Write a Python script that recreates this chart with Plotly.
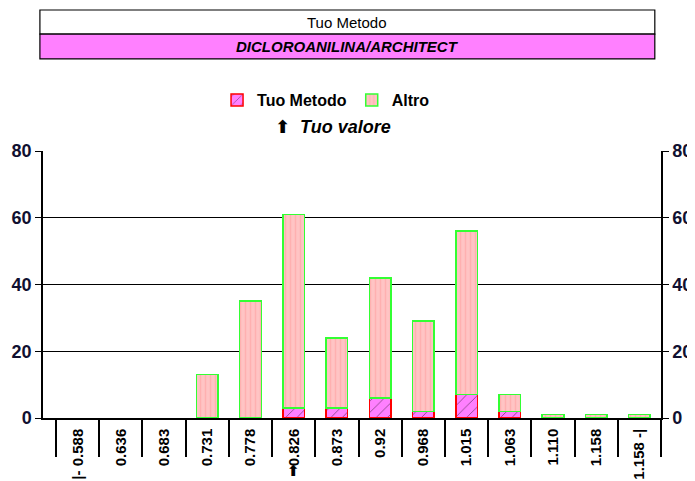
import plotly.graph_objects as go

# histogram classes and counts
classi = ["|- 0.588", "0.636", "0.683", "0.731", "0.778", "0.826", "0.873",
          "0.92", "0.968", "1.015", "1.063", "1.110", "1.158", "1.158 -|"]
tuo_metodo = [0, 0, 0, 0, 0, 3, 3, 6, 2, 7, 2, 0, 0, 0]
altro = [0, 0, 0, 13, 35, 58, 21, 36, 27, 49, 5, 1, 1, 1]
tuo_valore = "0.826"

font_ax = "Liberation Sans, Arial, sans-serif"
arrow = '<span style="font-family:DejaVu Sans"><b>⬆</b></span>'

# zero counts draw no bar at all
tuo_y = [v if v else None for v in tuo_metodo]
altro_y = [v if v else None for v in altro]

fig = go.Figure()

fig.add_trace(go.Bar(
    x=classi, y=tuo_y, name="Tuo Metodo", width=0.5,
    marker=dict(color="#ff80ff", line=dict(color="#ff0000", width=1.5),
                pattern=dict(shape="/", fgcolor="#000000", bgcolor="#ff80ff",
                             size=8, solidity=0.1)),
))
fig.add_trace(go.Bar(
    x=classi, y=altro_y, name="Altro", width=0.5,
    marker=dict(color="#ffc0c0", line=dict(color="#33ff33", width=1.5),
                pattern=dict(shape="|", fgcolor="#ff9c9c", bgcolor="#ffc4c4",
                             size=5, solidity=0.3)),
))
# invisible trace to get the right-hand axis
fig.add_trace(go.Scatter(x=[classi[0]], y=[0], yaxis="y2", mode="markers",
                         marker=dict(opacity=0), showlegend=False, hoverinfo="skip"))

# page has an 8px body margin, so the figure is 8px smaller than the window
fig.update_layout(
    width=687, height=473,
    margin=dict(l=35, r=34, t=143, b=63),
    paper_bgcolor="white", plot_bgcolor="white",
    barmode="stack",
    font=dict(family=font_ax, color="#000000"),
    legend=dict(orientation="h", x=0.458, xanchor="center", y=1.191, yanchor="middle",
                traceorder="normal", font=dict(size=16, family=font_ax, weight="bold"),
                itemwidth=30, bgcolor="rgba(0,0,0,0)"),
    xaxis=dict(
        type="category", categoryorder="array", categoryarray=classi,
        tickangle=-90, automargin=False,
        tickson="boundaries", ticks="outside", ticklen=37, tickcolor="#000000",
        tickwidth=1.5, ticklabelstandoff=3, showgrid=False, zeroline=False,
        showline=True, linecolor="#000000", linewidth=1.5,
        tickfont=dict(size=15, family=font_ax, color="#000000", weight="bold"),
    ),
    yaxis=dict(
        range=[0, 80], tickvals=[0, 20, 40, 60, 80], ticks="outside", ticklen=6,
        automargin=False,
        tickcolor="#000000", showgrid=True, gridcolor="#000000", gridwidth=1.2,
        zeroline=False, showline=True, linecolor="#000000", linewidth=1.5,
        tickfont=dict(size=18, family=font_ax, color="#101030", weight="bold"),
    ),
    yaxis2=dict(
        range=[0, 80], tickvals=[0, 20, 40, 60, 80], overlaying="y", side="right",
        automargin=False,
        ticks="outside", ticklen=6, tickcolor="#000000", showgrid=False,
        zeroline=False, showline=True, linecolor="#000000", linewidth=1.5,
        tickfont=dict(size=18, family=font_ax, color="#101030", weight="bold"),
    ),
)

# title boxes
fig.add_shape(type="rect", xref="paper", yref="paper", x0=-0.005, x1=0.99,
              y0=1.438, y1=1.528, fillcolor="white", line=dict(color="black", width=1.2))
fig.add_shape(type="rect", xref="paper", yref="paper", x0=-0.005, x1=0.99,
              y0=1.345, y1=1.438, fillcolor="#ff80ff", line=dict(color="black", width=1.2))
fig.add_annotation(xref="paper", yref="paper", x=0.4925, y=1.483, yanchor="middle",
                   showarrow=False, text="Tuo Metodo", font=dict(size=15, family=font_ax))
fig.add_annotation(xref="paper", yref="paper", x=0.4925, y=1.391, yanchor="middle",
                   showarrow=False, text="<b><i>DICLOROANILINA/ARCHITECT</i></b>",
                   font=dict(size=15, family=font_ax))

# "Tuo valore" marker
fig.add_annotation(xref="paper", yref="paper", x=0.469, y=1.09, yanchor="middle",
                   showarrow=False, text=arrow + "  <b><i>Tuo valore</i></b>",
                   font=dict(size=18, family=font_ax))
fig.add_annotation(xref="x", yref="paper", x=classi.index(tuo_valore), y=-0.2,
                   yanchor="middle", showarrow=False, text=arrow,
                   font=dict(size=15, family="DejaVu Sans"))

fig.write_html("out.html")
